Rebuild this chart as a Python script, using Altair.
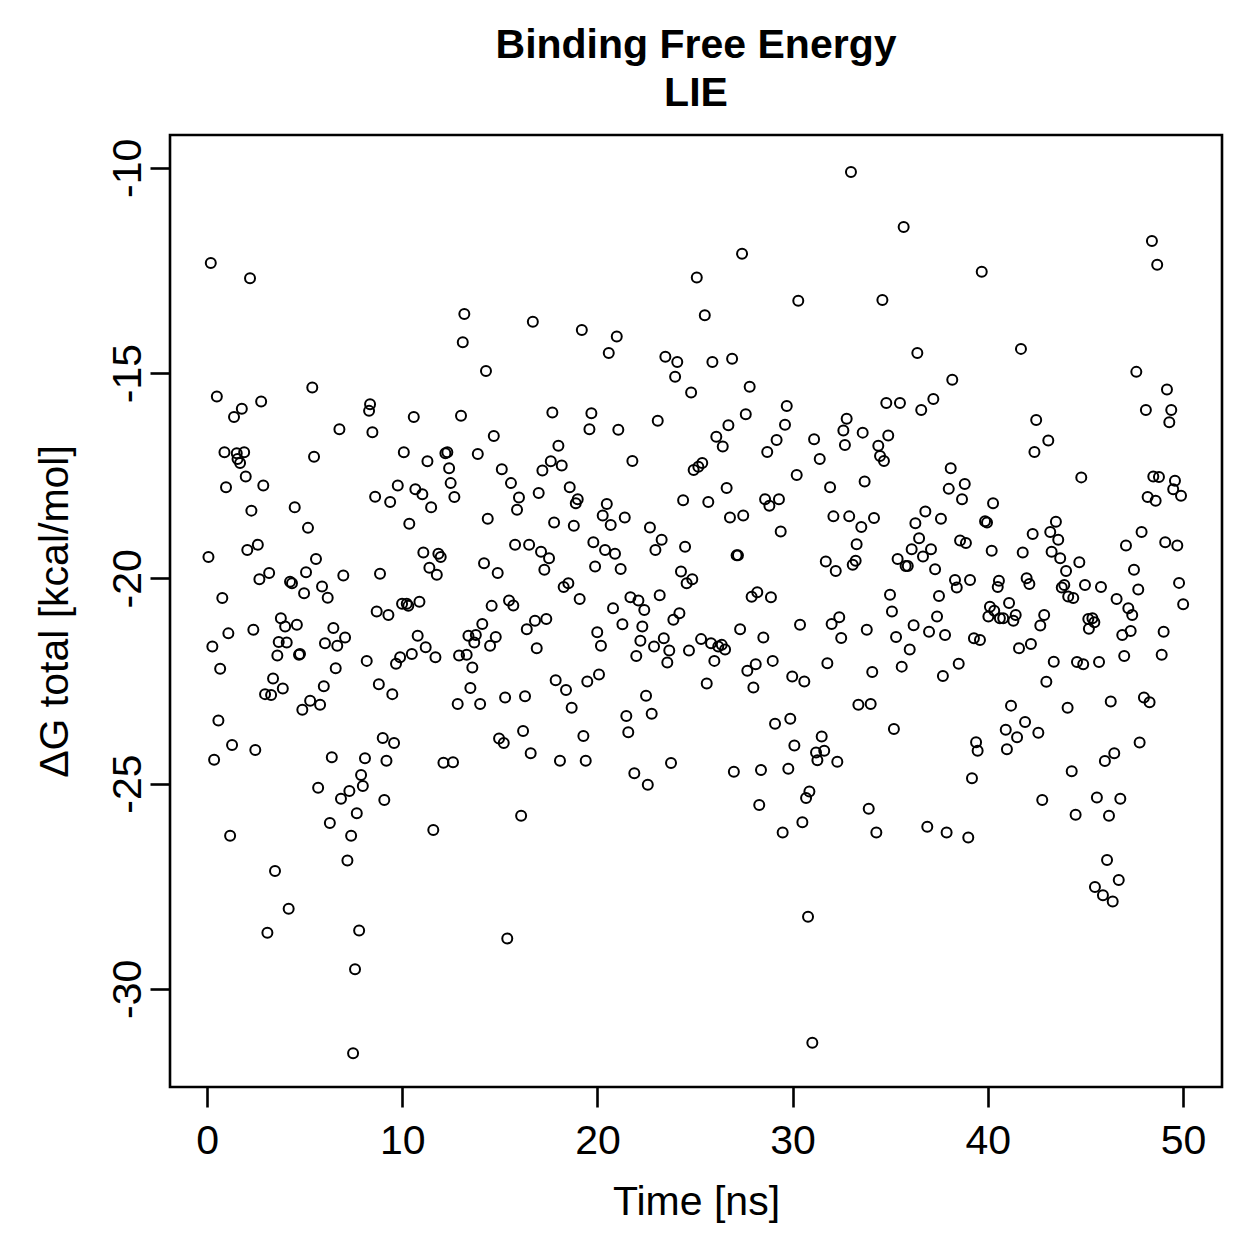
import altair as alt
import pandas as pd

time_ns = [0.07,0.19,0.27,0.36,0.50,0.58,0.67,0.78,0.89,0.97,
1.09,1.18,1.28,1.38,1.52,1.56,1.69,1.78,1.90,1.98,
2.06,2.20,2.27,2.37,2.47,2.60,2.68,2.77,2.88,2.97,
3.09,3.18,3.28,3.38,3.48,3.60,3.67,3.78,3.88,4.00,
4.08,4.18,4.25,4.35,4.49,4.60,4.71,4.76,4.88,4.97,
5.07,5.17,5.28,5.39,5.48,5.58,5.69,5.79,5.89,5.98,
6.04,6.18,6.29,6.39,6.47,6.59,6.67,6.78,6.86,6.98,
7.07,7.19,7.29,7.38,7.48,7.58,7.67,7.79,7.89,7.98,
8.09,8.18,8.30,8.35,8.47,8.61,8.69,8.80,8.86,9.00,
9.08,9.19,9.29,9.38,9.49,9.58,9.68,9.77,9.89,9.99,
10.08,10.23,10.31,10.36,10.49,10.59,10.67,10.79,10.88,11.03,
11.08,11.20,11.29,11.39,11.48,11.59,11.70,11.77,11.85,11.97,
12.11,12.21,12.31,12.40,12.48,12.60,12.67,12.84,12.91,13.01,
13.10,13.18,13.30,13.39,13.49,13.59,13.69,13.77,13.87,13.99,
14.10,14.19,14.29,14.38,14.50,14.58,14.69,14.79,14.89,14.96,
15.10,15.20,15.27,15.38,15.47,15.57,15.69,15.78,15.88,15.98,
16.09,16.19,16.29,16.38,16.50,16.58,16.69,16.80,16.89,16.99,
17.11,17.18,17.28,17.38,17.52,17.61,17.69,17.78,17.86,18.00,
18.08,18.17,18.27,18.39,18.51,18.58,18.68,18.79,18.89,18.99,
19.09,19.20,19.28,19.40,19.48,19.59,19.69,19.79,19.88,19.99,
20.08,20.18,20.27,20.39,20.48,20.58,20.68,20.80,20.90,20.99,
21.07,21.19,21.28,21.40,21.48,21.58,21.69,21.79,21.89,21.99,
22.10,22.20,22.30,22.40,22.49,22.58,22.69,22.78,22.90,22.97,
23.09,23.19,23.29,23.40,23.48,23.58,23.68,23.77,23.89,23.98,
24.09,24.20,24.28,24.39,24.49,24.57,24.69,24.80,24.86,24.93,
25.09,25.17,25.31,25.37,25.50,25.60,25.68,25.82,25.89,25.99,
26.09,26.19,26.37,26.42,26.54,26.62,26.71,26.79,26.90,26.99,
27.13,27.20,27.31,27.41,27.47,27.60,27.68,27.80,27.90,27.99,
28.11,28.19,28.29,28.38,28.50,28.59,28.70,28.81,28.89,28.98,
29.10,29.18,29.30,29.39,29.49,29.61,29.70,29.78,29.88,29.98,
30.09,30.21,30.29,30.38,30.50,30.60,30.69,30.79,30.86,31.01,
31.10,31.20,31.27,31.39,31.49,31.62,31.70,31.78,31.92,32.00,
32.09,32.21,32.29,32.39,32.49,32.60,32.68,32.77,32.90,32.99,
33.08,33.23,33.28,33.37,33.52,33.59,33.69,33.80,33.90,34.00,
34.08,34.17,34.29,34.39,34.48,34.60,34.68,34.80,34.90,34.99,
35.09,35.19,35.30,35.38,35.50,35.59,35.69,35.79,35.90,36.00,
36.10,36.20,36.29,36.39,36.48,36.59,36.68,36.80,36.90,36.99,
37.09,37.21,37.30,37.40,37.50,37.60,37.70,37.81,37.89,38.00,
38.10,38.18,38.32,38.41,38.51,38.58,38.68,38.82,38.88,39.00,
39.09,39.19,39.29,39.40,39.48,39.60,39.69,39.86,39.96,40.03,
40.11,40.20,40.27,40.33,40.51,40.57,40.62,40.79,40.92,40.98,
41.09,41.19,41.31,41.43,41.50,41.60,41.70,41.79,41.91,41.99,
42.13,42.21,42.30,42.39,42.48,42.59,42.69,42.79,42.89,43.00,
43.10,43.20,43.27,43.38,43.49,43.61,43.71,43.79,43.92,44.01,
44.09,44.12,44.30,44.38,44.50,44.57,44.69,44.79,44.89,44.98,
45.15,45.18,45.36,45.46,45.49,45.59,45.70,45.80,45.90,46.00,
46.11,46.21,46.30,46.40,46.48,46.60,46.71,46.79,46.89,46.99,
47.08,47.20,47.32,47.40,47.49,47.61,47.71,47.78,47.88,48.00,
48.10,48.19,48.29,48.41,48.48,48.60,48.68,48.77,48.91,49.01,
49.09,49.18,49.30,49.40,49.50,49.59,49.71,49.80,49.90,50.01]

delta_g = [-19.48,-12.32,-21.66,-24.42,-15.57,-23.46,-22.20,-20.48,-16.93,-17.78,
-21.34,-26.27,-24.06,-16.07,-16.95,-17.09,-17.19,-15.87,-16.93,-17.52,
-19.31,-12.69,-18.35,-21.25,-24.18,-19.18,-20.02,-15.69,-17.74,-22.82,
-28.63,-19.87,-22.84,-22.44,-27.13,-21.88,-21.55,-20.97,-22.68,-21.17,
-21.56,-28.05,-20.08,-20.12,-18.27,-21.13,-21.86,-21.84,-23.20,-20.36,
-19.85,-18.77,-22.98,-15.35,-17.04,-19.53,-25.10,-23.08,-20.20,-22.63,
-21.58,-20.47,-25.96,-24.36,-21.21,-22.19,-21.64,-16.37,-25.37,-19.93,
-21.44,-26.87,-25.18,-26.27,-31.57,-29.52,-25.72,-28.58,-24.79,-25.06,
-24.38,-22.01,-15.92,-15.76,-16.44,-18.01,-20.81,-22.58,-19.89,-23.89,
-25.40,-24.44,-20.89,-18.14,-22.82,-24.01,-22.08,-17.74,-21.92,-20.62,
-16.93,-20.62,-20.67,-18.67,-21.84,-16.07,-17.83,-21.40,-20.57,-17.95,
-19.37,-21.68,-17.15,-19.74,-18.27,-26.13,-21.92,-19.91,-19.40,-19.48,
-24.49,-16.95,-16.93,-17.32,-17.68,-24.48,-18.02,-23.06,-21.88,-16.04,
-14.25,-13.56,-21.86,-21.40,-22.67,-22.17,-21.56,-21.38,-16.97,-23.06,
-21.11,-19.63,-14.95,-18.55,-21.64,-20.67,-16.53,-21.43,-19.87,-23.90,
-17.34,-24.01,-22.90,-28.77,-20.54,-17.68,-20.66,-19.18,-18.33,-18.03,
-25.78,-23.72,-22.87,-21.24,-19.18,-24.26,-13.75,-21.03,-21.70,-17.92,
-19.35,-17.37,-19.79,-20.99,-19.51,-17.15,-15.96,-18.64,-22.48,-16.77,
-24.44,-17.25,-20.21,-22.72,-20.12,-17.78,-23.15,-18.72,-18.17,-18.07,
-20.50,-13.95,-23.84,-24.44,-22.51,-16.37,-15.98,-19.12,-19.71,-21.31,
-22.34,-21.64,-18.47,-19.31,-18.19,-14.51,-18.70,-20.73,-19.40,-14.11,
-16.38,-19.77,-21.12,-18.52,-23.35,-23.75,-20.46,-17.14,-24.75,-21.89,
-20.54,-21.52,-21.17,-20.77,-22.86,-25.03,-18.76,-23.30,-21.66,-19.31,
-16.16,-20.41,-19.06,-21.46,-14.60,-22.05,-21.76,-24.50,-21.01,-15.09,
-14.73,-20.85,-19.83,-18.10,-19.23,-20.12,-21.76,-15.47,-20.02,-17.36,
-12.67,-17.28,-21.48,-17.19,-13.59,-22.56,-18.14,-21.58,-14.73,-22.01,
-16.55,-21.66,-21.62,-16.79,-21.73,-17.80,-16.27,-18.52,-14.65,-24.71,
-19.44,-19.44,-21.24,-12.09,-18.47,-16.00,-22.25,-15.33,-20.45,-22.66,
-22.09,-20.34,-25.52,-24.67,-21.44,-18.07,-16.92,-18.23,-20.46,-22.01,
-23.54,-16.63,-18.07,-18.86,-26.19,-16.26,-15.80,-24.64,-23.42,-22.39,
-24.07,-17.48,-13.24,-21.13,-25.94,-22.51,-25.35,-28.24,-25.19,-31.31,
-16.61,-24.24,-24.43,-17.09,-23.85,-24.20,-19.59,-22.07,-17.78,-21.11,
-18.49,-19.82,-24.47,-20.95,-21.45,-16.40,-16.75,-16.11,-18.49,-10.10,
-19.67,-19.57,-19.17,-23.08,-18.75,-16.45,-17.64,-21.25,-25.61,-23.06,
-22.28,-18.53,-26.19,-16.77,-17.02,-13.22,-17.14,-15.73,-16.52,-20.40,
-20.81,-23.67,-21.43,-19.53,-15.73,-22.15,-11.44,-19.70,-19.70,-21.73,
-19.29,-21.14,-18.66,-14.51,-19.02,-15.90,-19.47,-18.37,-26.05,-21.30,
-19.29,-15.63,-19.78,-20.93,-20.43,-18.55,-22.38,-21.38,-26.19,-17.82,
-17.32,-15.16,-20.04,-20.22,-22.08,-19.08,-18.07,-17.70,-19.14,-26.31,
-20.04,-24.87,-21.46,-23.99,-24.20,-21.50,-12.53,-18.61,-18.64,-20.93,
-20.69,-19.33,-18.17,-20.79,-20.21,-20.06,-20.97,-20.97,-23.69,-24.16,
-20.60,-23.10,-21.03,-20.89,-23.87,-21.70,-14.41,-19.37,-23.50,-20.00,
-20.14,-21.60,-18.92,-16.92,-16.14,-23.76,-21.15,-25.40,-20.89,-22.52,
-16.64,-18.87,-19.35,-22.03,-18.62,-19.06,-19.51,-20.22,-20.16,-19.82,
-23.15,-20.44,-24.70,-20.48,-25.76,-22.04,-19.61,-17.54,-22.09,-20.16,
-20.99,-21.23,-20.97,-21.07,-27.52,-25.34,-22.04,-20.21,-27.72,-24.45,
-26.86,-25.78,-23.00,-27.87,-24.26,-20.50,-27.35,-25.37,-21.38,-21.89,
-19.20,-20.73,-21.28,-20.89,-19.79,-14.97,-20.27,-24.00,-18.87,-22.90,
-15.90,-18.02,-23.02,-11.78,-17.52,-18.11,-12.36,-17.53,-21.86,-21.30,
-19.12,-15.40,-16.20,-15.90,-17.83,-17.62,-19.20,-20.11,-17.99,-20.63]

x_ticks = [0, 10, 20, 30, 40, 50]
y_ticks = [-30, -25, -20, -15, -10]

df = pd.DataFrame({"time": time_ns, "dG": delta_g})

FONT = "Liberation Sans"
FS = 41

chart = alt.Chart(df).mark_point(
    shape="circle", filled=False, size=100, strokeWidth=2, color="black", opacity=1
).encode(
    x=alt.X("time:Q",
            scale=alt.Scale(domain=[-1.9, 52.0], nice=False, zero=False),
            axis=alt.Axis(values=x_ticks, title="Time [ns]", grid=False, domain=False,
                          tickSize=20, tickWidth=2.6, tickColor="black",
                          labelFont=FONT, labelFontSize=FS, labelColor="black",
                          labelBaseline="alphabetic", labelPadding=46,
                          labelFlush=False, labelOverlap=False,
                          labelExpr="toString(datum.value)",
                          titleFont=FONT, titleFontSize=FS, titleFontWeight="normal",
                          titleColor="black", titleX=526, titleY=127,
                          titleBaseline="alphabetic", titleAlign="center")),
    y=alt.Y("dG:Q",
            scale=alt.Scale(domain=[-32.39, -9.2], nice=False, zero=False),
            axis=alt.Axis(values=y_ticks, title="ΔG total [kcal/mol]", grid=False, domain=False,
                          tickSize=20, tickWidth=2.6, tickColor="black",
                          labelFont=FONT, labelFontSize=FS, labelColor="black",
                          labelAngle=270, labelAlign="center", labelBaseline="alphabetic",
                          labelPadding=10, labelFlush=False, labelOverlap=False,
                          labelExpr="toString(datum.value)",
                          titleFont=FONT, titleFontSize=FS, titleFontWeight="normal",
                          titleColor="black", titleAngle=270, titleX=-103, titleY=476,
                          titleBaseline="alphabetic", titleAlign="center")),
).properties(
    width=1052, height=952,
    title=alt.TitleParams(text=["Binding Free Energy", "LIE"], font=FONT, fontSize=FS,
                          fontWeight="bold", color="black", anchor="middle",
                          lineHeight=48, offset=20),
    autosize=alt.AutoSizeParams(type="none"),
    padding={"left": 170, "top": 135, "right": 37, "bottom": 172},
    background="white",
).configure_view(stroke="black", strokeWidth=2.6, fill="white")

chart.save("out.html", embed_options={"renderer": "svg", "actions": False})
